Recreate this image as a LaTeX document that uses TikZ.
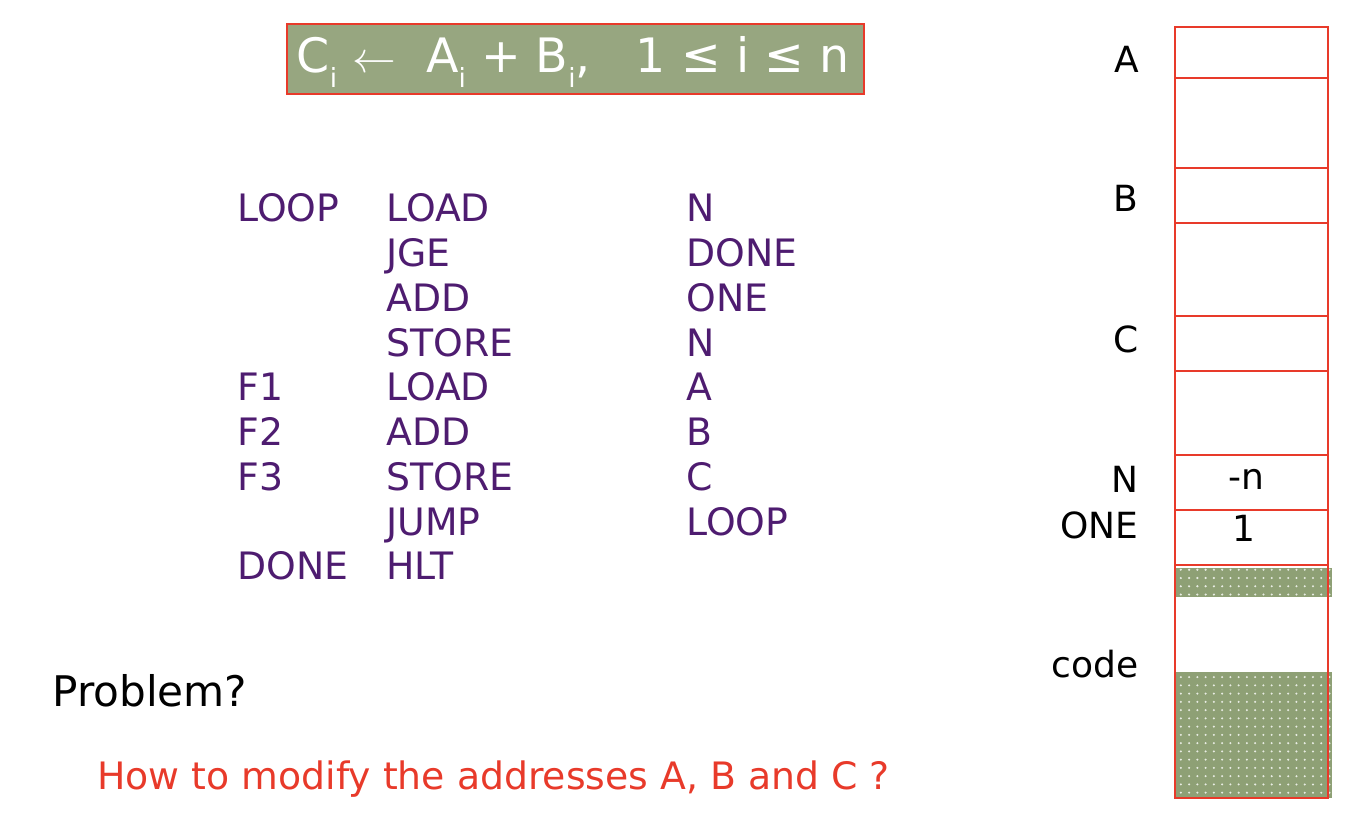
\documentclass[tikz,border=0pt]{standalone}
\usepackage{fontspec}
\setmainfont{DejaVu Sans}
\usepackage{tikz}
\usetikzlibrary{patterns.meta}
\definecolor{myred}{RGB}{232,58,42}
\definecolor{mypurple}{RGB}{78,28,112}
\definecolor{myolive}{RGB}{151,166,128}
\definecolor{mygreen}{RGB}{142,160,117}
\tikzset{
  codetxt/.style={anchor=base west, inner sep=0pt, text=mypurple,
    font=\fontsize{21.5}{24}\selectfont},
  memlbl/.style={anchor=base east, inner sep=0pt, text=black,
    font=\fontsize{20.5}{23}\selectfont},
  memval/.style={anchor=base, inner sep=0pt, text=black,
    font=\fontsize{20.5}{23}\selectfont},
  cell/.style={draw=myred, line width=1.1pt},
  dotted band/.style={fill=mygreen, postaction={pattern={Dots[distance=4.7pt, radius=0.65pt]}, pattern color=white!80!mygreen}}
}
\newcommand{\sub}[1]{\raisebox{-0.55ex}{\fontsize{15}{15}\selectfont #1}}

\begin{document}
\begin{tikzpicture}[x=0.02cm, y=-0.02cm]
  \useasboundingbox (0,0) rectangle (1370,834);

  % formula box
  \node[draw=myred, line width=1.1pt, fill=myolive, inner sep=0pt,
    minimum width=577*0.02cm, minimum height=70*0.02cm] (formula) at (575.5,59) {};
  \node[anchor=base, inner sep=0pt, text=white, font=\fontsize{27}{30}\selectfont]
    (formulatext) at (573,73)
    {C\sub{i}\ $\leftarrow$\ \ A\sub{i}\ + B\sub{i},\ \ \ 1 ≤ i ≤ n};

  % program listing
  \foreach \lbl/\op/\arg [count=\k from 0] in
    {LOOP/LOAD/N, /JGE/DONE, /ADD/ONE, /STORE/N, F1/LOAD/A,
     F2/ADD/B, F3/STORE/C, /JUMP/LOOP, DONE/HLT/}
  {
    \node[codetxt] (lbl\k) at (237,222+44.75*\k) {\lbl};
    \node[codetxt] (op\k) at (386,222+44.75*\k) {\op};
    \node[codetxt] (arg\k) at (686,222+44.75*\k) {\arg};
  }

  % memory column
  \draw[dotted band, draw=none] (1175,568) rectangle (1332,597);
  \draw[dotted band, draw=none] (1175,672) rectangle (1332,798);
  \draw[cell] (1175,27) rectangle (1328,798);
  \foreach \yy in {78,168,223,316,371,455,510,565}
    \draw[cell] (1175,\yy) -- (1328,\yy);

  \node[memlbl] (labA) at (1139,73) {A};
  \node[memlbl] (labB) at (1139,212) {B};
  \node[memlbl] (labC) at (1139,353) {C};
  \node[memlbl] (labN) at (1139,493) {N};
  \node[memlbl] (labONE) at (1139,539) {ONE};
  \node[memlbl] (labcode) at (1139,677) {code};
  \node[memval] (valN) at (1246,490) {-n};
  \node[memval] (valONE) at (1244,541) {1};

  % questions
  \node[anchor=base west, inner sep=0pt, font=\fontsize{24}{27}\selectfont]
    (problem) at (52,706) {Problem?};
  \node[anchor=base west, inner sep=0pt, text=myred, font=\fontsize{21.5}{24}\selectfont]
    (howto) at (97,789) {How to modify the addresses A, B and C ?};
\end{tikzpicture}
\end{document}
